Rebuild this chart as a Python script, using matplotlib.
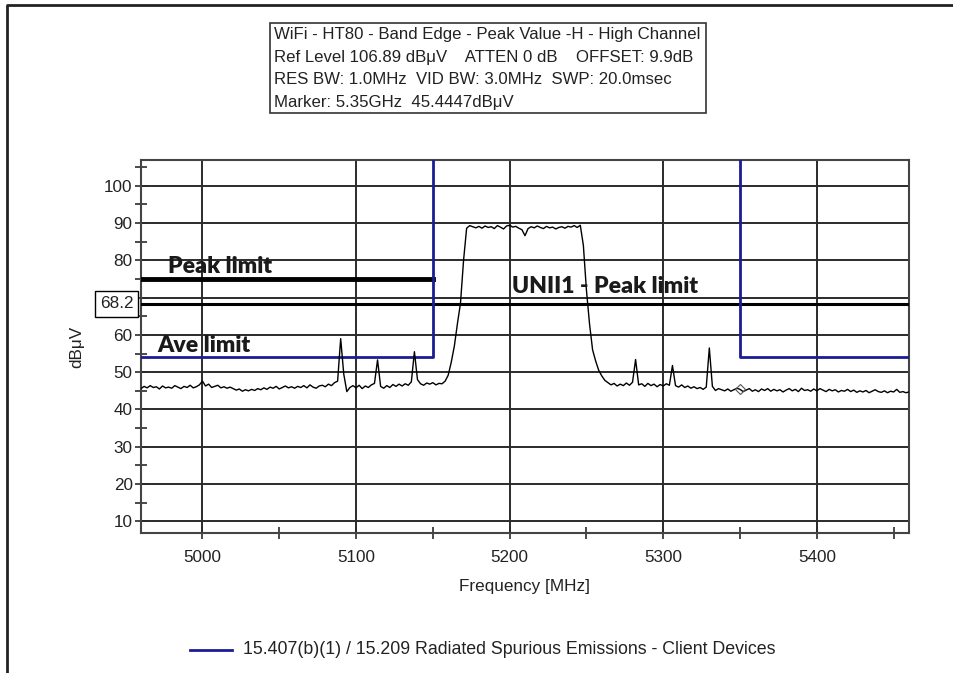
import matplotlib

matplotlib.use("Agg")
import matplotlib.pyplot as plt  # noqa: E402
import numpy as np  # noqa: E402
from matplotlib.lines import Line2D  # noqa: E402
from matplotlib.patches import Rectangle  # noqa: E402

plt.rcParams["font.family"] = ["Liberation Sans", "DejaVu Sans"]

W, H = 954, 673

# sweep: 4960..5460 MHz, 2 MHz per point
f_start, f_stop, f_step = 4960, 5460, 2
level = [
    45.6, 46.2, 45.8, 46.4, 45.9, 46.1, 45.5, 46.3, 45.8, 46.0,
    45.7, 46.4, 46.0, 45.6, 46.2, 45.9, 46.5, 45.8, 46.1, 46.6,
    47.6, 46.3, 46.8, 45.9, 46.2, 46.5, 45.8, 46.1, 45.7, 46.0,
    45.6, 45.2, 45.5, 44.9, 45.3, 45.0, 45.4, 45.1, 45.6, 45.3,
    45.8, 45.4, 46.0, 45.7, 46.2, 45.5, 45.9, 46.3, 45.8, 46.1,
    45.7, 46.2, 45.9, 46.4, 45.8, 46.6, 46.0, 45.7, 46.3, 46.5,
    46.1, 46.8, 46.4, 47.2, 47.6, 59.0, 49.5, 44.8, 45.9, 46.4,
    45.8, 46.5, 45.6, 46.3, 45.9, 46.6, 47.0, 53.3, 46.2, 45.7,
    46.4, 45.9, 46.7, 46.2, 46.8, 46.3, 46.9, 46.5, 47.4, 55.5,
    48.0, 46.9, 46.5, 47.1, 46.8, 47.2, 46.6, 47.0, 46.9, 47.6,
    49.2, 52.7, 57.0, 63.0, 68.5, 80.0, 88.6, 89.3, 89.0, 88.7,
    89.1, 88.6, 89.2, 88.8, 89.0, 88.5, 89.3, 88.9, 88.4, 89.2,
    89.4, 88.9, 89.1, 88.6, 88.2, 86.6, 88.5, 89.0, 88.7, 89.2,
    88.8, 88.5, 89.1, 88.7, 88.9, 88.4, 88.8, 89.0, 88.6, 89.1,
    88.9, 89.3, 88.8, 89.4, 84.0, 72.0, 63.0, 56.0, 53.0, 50.5,
    49.0, 47.8, 47.2, 46.6, 47.0, 46.3, 46.8, 46.4, 47.1, 46.5,
    47.3, 53.4, 46.6, 46.9, 46.2, 47.0, 46.4, 46.8, 46.1, 46.7,
    46.3, 46.9, 46.5, 51.8, 46.4, 46.0, 46.6, 45.9, 46.3, 45.7,
    46.1, 45.6, 45.9, 45.4, 46.0, 56.5, 46.2, 45.1, 45.6, 45.3,
    45.0, 45.5, 44.9, 45.3, 45.7, 45.4, 44.8, 45.2, 45.6, 44.9,
    45.3, 44.8, 45.5, 45.1, 45.6, 44.9, 45.4, 45.0, 45.3, 44.7,
    45.2, 45.6, 45.0, 45.4, 44.8, 45.7, 45.1, 45.3, 44.9, 45.5,
    45.0, 45.6, 45.2, 44.8, 45.4, 45.0, 45.3, 44.7, 45.1, 44.9,
    45.4, 44.8, 45.2, 44.6, 45.0, 44.7, 45.1, 44.5, 44.9, 45.3,
    44.8, 44.6, 45.0, 44.5, 44.9, 44.7, 45.4, 44.6, 44.8, 44.5,
    44.7,
]

ref_level = 106.89
peak_limit = 75.0
ave_limit = 54.0
unii1_limit = 68.2
band_edges = [5150, 5350]
marker_f, marker_lvl = 5350, 45.4447

header = [
    "WiFi - HT80 - Band Edge - Peak Value -H - High Channel",
    "Ref Level 106.89 dB\u03bcV    ATTEN 0 dB    OFFSET: 9.9dB",
    "RES BW: 1.0MHz  VID BW: 3.0MHz  SWP: 20.0msec",
    "Marker: 5.35GHz  45.4447dB\u03bcV",
]
legend_label = "15.407(b)(1) / 15.209 Radiated Spurious Emissions - Client Devices"

BLUE = "#1c1c94"
GRID = "#2b2b2b"


def fx(px):
    return px / W


def fy(py):
    return 1 - py / H


freq = np.arange(f_start, f_stop + f_step, f_step)

fig = plt.figure(figsize=(W / 100, H / 100), dpi=100)
ax = fig.add_axes([fx(141), fy(533), fx(909) - fx(141), fy(160) - fy(533)])

ax.set_xlim(f_start, f_stop)
ax.set_ylim(ref_level - 100, ref_level)

ax.set_xticks(np.arange(5000, 5401, 100))
ax.set_xticks(np.arange(5000, 5451, 50), minor=True)
yt = np.arange(10, 101, 10)
ax.set_yticks(yt)
ax.set_yticklabels(["" if v == 70 else str(v) for v in yt])
ax.set_yticks(np.arange(15, 106, 10), minor=True)
ax.tick_params(which="both", direction="inout", length=8, width=1.2,
               color=GRID, labelsize=12.3, pad=2, labelcolor="#222222")
ax.tick_params(axis="x", pad=8)
ax.grid(True, which="major", color=GRID, linewidth=1.4)
for s in ax.spines.values():
    s.set_color("#444444")
    s.set_linewidth(1.5)

# limit lines
ax.axhline(unii1_limit, color="black", linewidth=2.2, zorder=3)
lo, hi = band_edges
ax.plot([f_start, lo], [peak_limit, peak_limit], color="black", linewidth=3.5, zorder=3)
ax.plot([f_start, lo, lo], [ave_limit, ave_limit, ref_level + 5],
        color=BLUE, linewidth=2, zorder=3)
ax.plot([hi, hi, f_stop], [ref_level + 5, ave_limit, ave_limit],
        color=BLUE, linewidth=2, zorder=3)

ax.plot(freq, level, color="black", linewidth=1.0, zorder=4)
ax.plot([marker_f], [marker_lvl], marker="D", markersize=5, markerfacecolor="none",
        markeredgecolor="#555555", markeredgewidth=0.8, zorder=5)

bold = dict(family="Lato", fontweight="heavy", fontsize=16.6, color="#1a1a1a", zorder=6)
ax.text(4977.5, 76.7, "Peak limit", va="baseline", **bold)
ax.text(4970.5, 55.5, "Ave limit", va="baseline", **bold)
ax.text(5201.5, 71.2, "UNII1 - Peak limit", va="baseline", **bold)

ax.set_xlabel("Frequency [MHz]", fontsize=12.3, labelpad=10, color="#222222")
ax.set_ylabel("dB\u03bcV", fontsize=12.3, labelpad=14, color="#222222")

# 68.2 readout box on the y axis
fig.text(fx(116.5), fy(304), "68.2", fontsize=12.3, ha="center", va="center",
         color="#222222",
         bbox=dict(boxstyle="square,pad=0.3", facecolor="white", edgecolor="black",
                   linewidth=1))

# header box
fig.add_artist(Rectangle((fx(270), fy(113)), fx(706) - fx(270), fy(23) - fy(113),
                         transform=fig.transFigure, facecolor="white",
                         edgecolor="#333333", linewidth=1.2))
for i, line in enumerate(header):
    fig.text(fx(274), fy(35 + 22.5 * i), line, fontsize=12.1, va="center",
             color="#222222")

# legend
fig.add_artist(Line2D([fx(190), fx(232)], [fy(650), fy(650)], color=BLUE,
                      linewidth=2, transform=fig.transFigure))
fig.text(fx(243), fy(650), legend_label, fontsize=12.8, va="center", color="#222222")

# window frame (left + top edges)
fig.add_artist(Line2D([fx(7), fx(7), fx(954)], [0, fy(5), fy(5)], color="#222222",
                      linewidth=2, transform=fig.transFigure))

fig.savefig("out.png", dpi=100)
